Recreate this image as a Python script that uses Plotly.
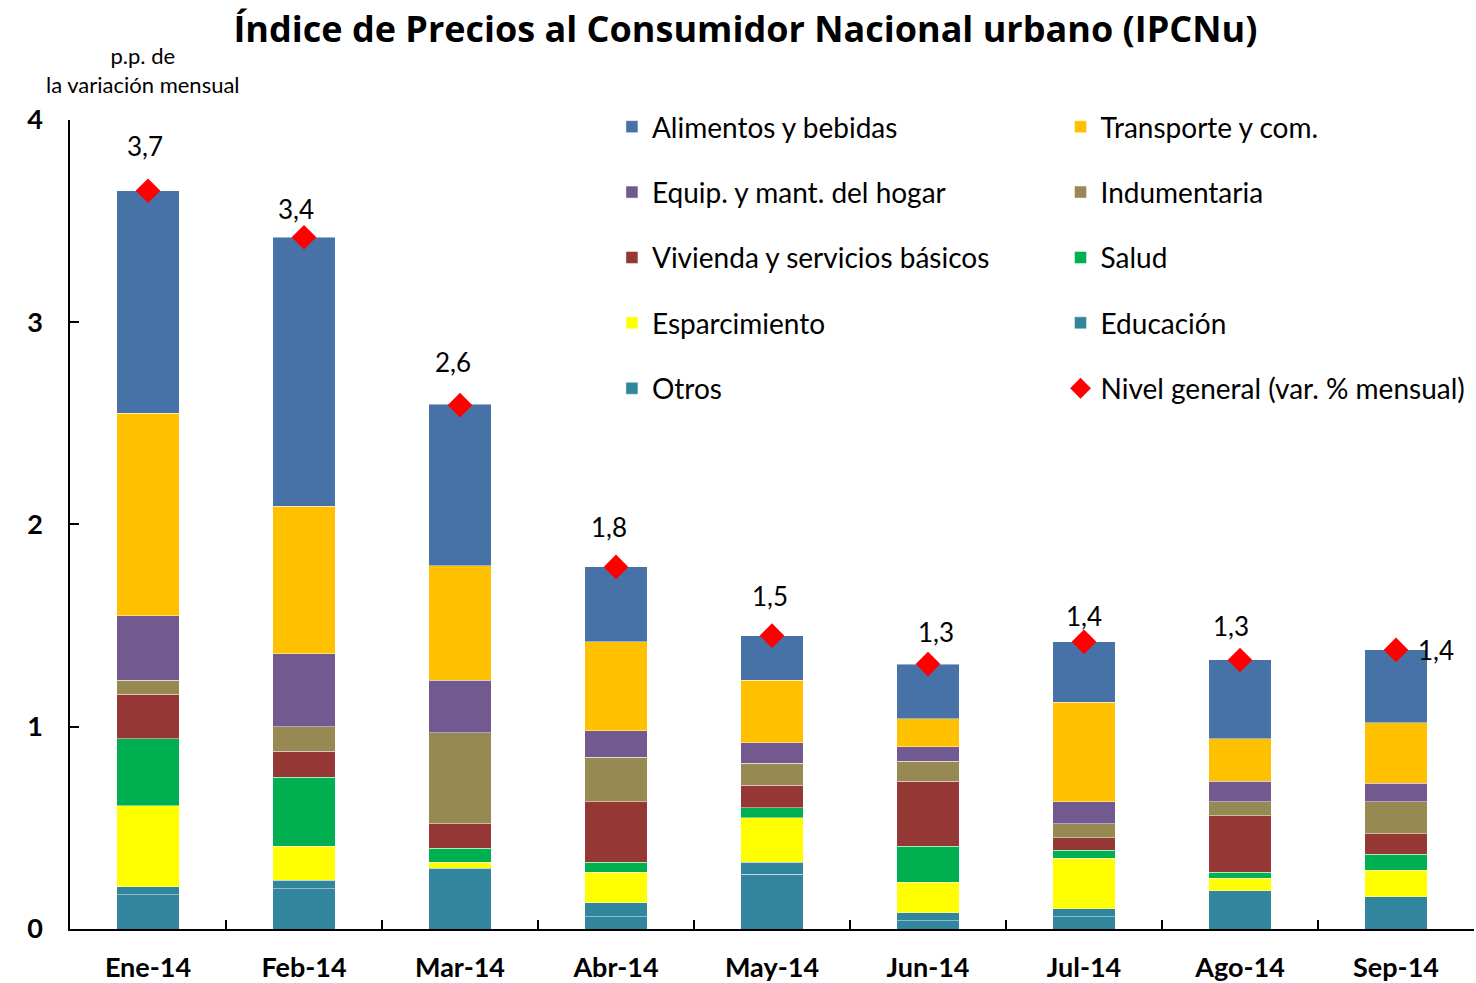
import plotly.graph_objects as go

months = ["Ene-14", "Feb-14", "Mar-14", "Abr-14", "May-14", "Jun-14", "Jul-14", "Ago-14", "Sep-14"]

alimentos = [1.10, 1.33, 0.80, 0.37, 0.22, 0.27, 0.30, 0.39, 0.36]
transporte = [1.00, 0.73, 0.565, 0.44, 0.31, 0.14, 0.49, 0.21, 0.30]
equipamiento = [0.32, 0.36, 0.26, 0.13, 0.10, 0.07, 0.11, 0.10, 0.09]
indumentaria = [0.07, 0.12, 0.45, 0.22, 0.11, 0.10, 0.07, 0.07, 0.16]
vivienda = [0.22, 0.13, 0.12, 0.30, 0.11, 0.32, 0.06, 0.28, 0.10]
salud = [0.33, 0.34, 0.07, 0.05, 0.05, 0.18, 0.04, 0.03, 0.08]
esparcimiento = [0.40, 0.17, 0.03, 0.15, 0.22, 0.15, 0.25, 0.06, 0.13]
educacion = [0.04, 0.04, 0.30, 0.07, 0.06, 0.04, 0.04, 0.00, 0.00]
otros = [0.17, 0.20, 0.00, 0.06, 0.27, 0.04, 0.06, 0.19, 0.16]

nivel_general = [3.65, 3.42, 2.59, 1.79, 1.45, 1.31, 1.42, 1.33, 1.38]
nivel_labels = ["3,7", "3,4", "2,6", "1,8", "1,5", "1,3", "1,4", "1,3", "1,4"]
label_dy = [45, 28, 43, 40, 40, 32, 26, 34, 0]
label_dx = [-3, -8, -7, -7, -2, 8, 0, -9, 40]

FONT = "Lato"

# (name, values, color, legend, rank) listed bottom-to-top for stacking
series = [
    ("Otros", otros, "#31859C", "legend", 5),
    ("Educación", educacion, "#31859C", "legend2", 4),
    ("Esparcimiento", esparcimiento, "#FFFF00", "legend", 4),
    ("Salud", salud, "#00B050", "legend2", 3),
    ("Vivienda y servicios básicos", vivienda, "#953735", "legend", 3),
    ("Indumentaria", indumentaria, "#968A52", "legend2", 2),
    ("Equip. y mant. del hogar", equipamiento, "#72598F", "legend", 2),
    ("Transporte y com.", transporte, "#FFC000", "legend2", 1),
    ("Alimentos y bebidas", alimentos, "#4672A8", "legend", 1),
]

fig = go.Figure()
for i, (name, vals, color, leg, rank) in enumerate(series):
    fig.add_trace(go.Bar(
        x=months, y=vals, name=name,
        marker=dict(color=color, line=dict(color="rgba(255,255,255,0.45)", width=1)),
        legend=leg, legendrank=rank, legendgroup="g%d" % i,
    ))

fig.add_trace(go.Scatter(
    x=months, y=nivel_general, mode="markers", name="Nivel general (var. % mensual)",
    marker=dict(symbol="diamond", color="#FF0000", size=19),
    legend="legend2", legendrank=5, legendgroup="gn",
))

for m, v, t, dy, dx in zip(months, nivel_general, nivel_labels, label_dy, label_dx):
    fig.add_annotation(x=m, y=v, text=t, showarrow=False, yshift=dy, xshift=dx,
                       font=dict(family=FONT, size=26, color="black"))

# paper area: top margin 60 px, bottom 54 px -> height 869 px
fig.add_annotation(xref="paper", yref="paper", x=0.052, y=0.954, xanchor="center", yanchor="bottom",
                   text="p.p. de<br>la variación mensual", showarrow=False,
                   font=dict(family=FONT, size=22, color="black"))

legend_common = dict(
    orientation="v", yanchor="top", xanchor="left",
    font=dict(family=FONT, size=28, color="black"),
    bgcolor="rgba(0,0,0,0)", tracegroupgap=26, itemwidth=30,
    traceorder="grouped",
)

fig.update_layout(
    width=1476, height=983,
    margin=dict(l=70, r=2, t=60, b=54, autoexpand=False),
    plot_bgcolor="white", paper_bgcolor="white",
    barmode="stack", bargap=0.6,
    title=dict(text="<b>Índice de Precios al Consumidor Nacional urbano (IPCNu)</b>",
               x=0.505, xanchor="center", y=0.970, yanchor="middle",
               font=dict(family="Open Sans", size=36, color="black")),
    legend=dict(x=0.386, y=0.9517, **legend_common),
    legend2=dict(x=0.7055, y=0.9517, **legend_common),
    xaxis=dict(
        type="category", showline=True, linecolor="black", linewidth=2,
        ticks="inside", tickson="boundaries", ticklen=9, tickcolor="black", tickwidth=1.5,
        tickfont=dict(family=FONT, size=27, color="black", weight="bold"),
        ticklabelstandoff=14, showgrid=False, range=[-0.5, 8.5], automargin=False,
    ),
    yaxis=dict(
        domain=[0, 0.931],
        range=[0, 4], dtick=1, showline=True, linecolor="black", linewidth=1.5,
        ticks="inside", ticklen=9, tickcolor="black", tickwidth=1.5,
        tickfont=dict(family=FONT, size=27, color="black", weight="bold"),
        ticklabelstandoff=20, showgrid=False, zeroline=False, automargin=False,
    ),
)

fig.write_html("out.html", config={"displayModeBar": False},
               post_script="document.body.style.margin='0';")
